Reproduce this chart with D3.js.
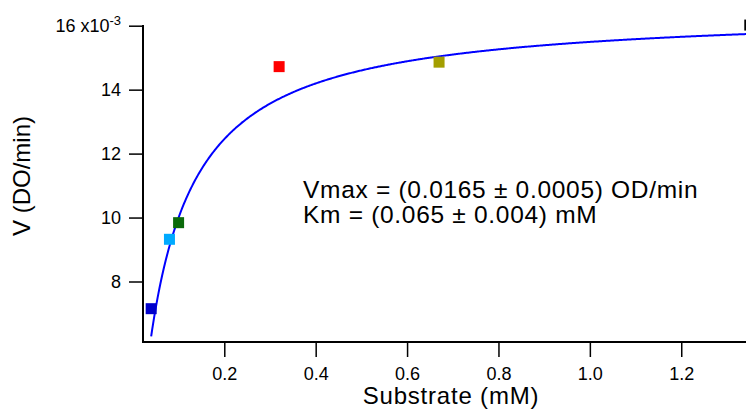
<!DOCTYPE html>
<html><head><meta charset="utf-8">
<script src="https://cdn.jsdelivr.net/npm/d3@7"></script>
<style>
html,body{margin:0;padding:0;background:#fff;overflow:hidden;}
text{font-family:"Liberation Sans",Arial,Helvetica,sans-serif;fill:#000;}
</style></head>
<body>
<svg id="chart" width="746" height="419"></svg>
<script>
// Data
const substrate = [0.04, 0.08, 0.10, 0.32, 0.67, 1.35];          // mM
const velocity  = [7.15e-3, 9.32e-3, 9.84e-3, 14.72e-3, 14.86e-3, 16.02e-3]; // OD/min
const pointColors = ["#0000cc", "#00aaff", "#0a6a0a", "#ff0000", "#a39e00", "#000000"];
const xTicks = [0.2, 0.4, 0.6, 0.8, 1.0, 1.2];
const yTicks = [8e-3, 10e-3, 12e-3, 14e-3, 16e-3];
const yTickLabels = ["8", "10", "12", "14", "16"];
// Fit parameters (Michaelis-Menten)
const Vmax = 0.0165, Km = 0.065;
const fitText = ["Vmax = (0.0165 ± 0.0005) OD/min", "Km = (0.065 ± 0.004) mM"];

const svg = d3.select("#chart");
const x = d3.scaleLinear().domain([0.0243, 1.3417]).range([144, 746]);
const y = d3.scaleLinear().domain([6.108e-3, 16e-3]).range([342, 25.7]);

// Fit curve
const xs = d3.range(substrate[0], 1.36, 0.002);
const line = d3.line().x(d => x(d)).y(d => y(Vmax * d / (Km + d)));
svg.append("path").datum(xs).attr("d", line)
  .attr("fill", "none").attr("stroke", "#0000ff").attr("stroke-width", 2);

// Points
svg.selectAll("rect.pt").data(substrate).enter().append("rect")
  .attr("class", "pt")
  .attr("x", (d) => x(d) - 5.5)
  .attr("y", (d, i) => y(velocity[i]) - 5.5)
  .attr("width", 11).attr("height", 11)
  .attr("fill", (d, i) => pointColors[i]);

// X axis
const xAxis = d3.axisBottom(x).tickValues(xTicks).tickFormat(d3.format(".1f"))
  .tickSize(15).tickPadding(10);
const gx = svg.append("g").attr("transform", "translate(0,342)").call(xAxis);
gx.select(".domain").remove();
gx.selectAll(".tick line").attr("stroke", "#000").attr("stroke-width", 1.5);
gx.selectAll(".tick text").attr("font-size", 18).attr("font-family", "Liberation Sans, Arial, sans-serif").attr("fill", "#000");
svg.append("line").attr("x1", 143).attr("x2", 746).attr("y1", 342).attr("y2", 342)
  .attr("stroke", "#000").attr("stroke-width", 2);

// Y axis
const yAxis = d3.axisLeft(y).tickValues(yTicks).tickFormat((d, i) => yTickLabels[i])
  .tickSize(14).tickPadding(8);
const gy = svg.append("g").attr("transform", "translate(143,0)").call(yAxis);
gy.select(".domain").remove();
gy.selectAll(".tick line").attr("stroke", "#000").attr("stroke-width", 1.5);
gy.selectAll(".tick text").attr("font-size", 18).attr("font-family", "Liberation Sans, Arial, sans-serif").attr("fill", "#000");
// exponent on top label
gy.selectAll(".tick text").filter((d) => d === 16e-3).each(function () {
  const t = d3.select(this);
  t.text(null);
  t.append("tspan").text("16 x10");
  t.append("tspan").attr("dy", "-0.55em").attr("font-size", 13).text("-3");
});
svg.append("line").attr("x1", 143).attr("x2", 143).attr("y1", 25).attr("y2", 343)
  .attr("stroke", "#000").attr("stroke-width", 2);

// Axis titles
svg.append("text").attr("x", 451).attr("y", 404).attr("text-anchor", "middle")
  .attr("font-size", 24).attr("letter-spacing", 0.8).text("Substrate (mM)");
svg.append("text").attr("transform", "translate(30,176) rotate(-90)")
  .attr("text-anchor", "middle").attr("font-size", 24).text("V (DO/min)");

// Fit annotation
svg.selectAll("text.fit").data(fitText).enter().append("text").attr("class", "fit")
  .attr("x", 303).attr("y", (d, i) => 198.3 + i * 25)
  .attr("font-size", 24.5).attr("letter-spacing", 0.7).text(d => d);
</script>
</body></html>
